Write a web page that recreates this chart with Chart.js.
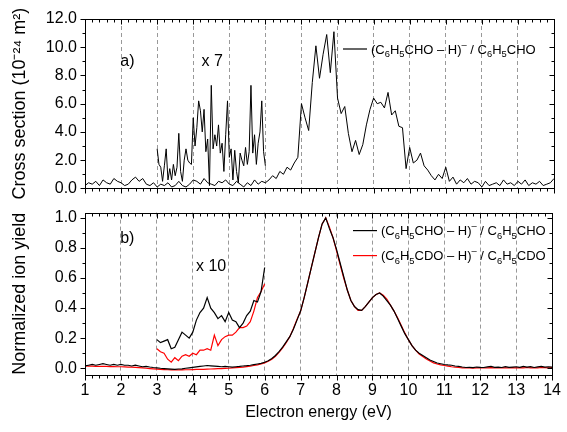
<!DOCTYPE html>
<html>
<head>
<meta charset="utf-8">
<script src="https://cdn.jsdelivr.net/npm/chart.js@4.4.1/dist/chart.umd.min.js"></script>
<style>
  html, body { margin: 0; padding: 0; background: #fff; }
  #wrap { position: relative; width: 567px; height: 432px; }
  #boxA { position: absolute; left: 0; top: 0; width: 567px; height: 206px; }
  #boxB { position: absolute; left: 0; top: 195px; width: 567px; height: 237px; }
</style>
</head>
<body>
<div id="wrap">
  <div id="boxA"><canvas id="chartA"></canvas></div>
  <div id="boxB"><canvas id="chartB"></canvas></div>
</div>
<script>
// energy grids (eV)
function grid(start, step, n) {
  return Array.from({ length: n }, (_, i) => +(start + i * step).toFixed(2));
}
const energyMain = grid(1.0, 0.1, 131);   // 1.0 ... 14.0
const energyZoomA = grid(3.0, 0.05, 61);  // 3.00 ... 6.00
const energyZoomB = grid(3.0, 0.1, 31);   // 3.0 ... 6.0

// a) cross section (10^-24 m^2)
const crossSection = [
  0.2, 0.4, 0.3, 0.5, 0.2, 0.6, 0.4, 0.3, 0.7, 0.5,
  0.4, 0.2, 0.3, 0.6, 0.8, 0.5, 0.7, 0.3, 0.2, 0.4,
  0.1, 0.3, 0.2, 0.4, 0.1, 0.2, 0.5, 0.2, 0.1, 0.3,
  0.6, 0.5, 0.3, 0.7, 0.4, 0.3, 0.2, 0.5, 0.4, 0.6,
  0.3, 0.2, 0.5, 0.3, 0.1, 0.4, 0.2, 0.6, 0.3, 0.5,
  0.4, 0.6, 0.9, 0.7, 1.2, 1.0, 1.5, 1.3, 1.8, 2.2,
  6.0, 5.0, 4.1, 7.5, 10.1, 7.8, 9.5, 10.9, 8.2, 11.1,
  6.4, 5.3, 5.8, 3.9, 2.6, 3.4, 2.4, 3.1, 4.5, 5.6,
  6.4, 6.0, 6.1, 5.7, 6.8, 5.2, 5.5, 4.4, 4.3, 1.4,
  2.9, 1.8, 2.0, 2.5, 1.6, 1.3, 0.9, 0.6, 1.0, 0.7,
  1.5, 0.5, 0.8, 0.3, 0.6, 0.4, 0.7, 0.3, 0.5, 0.4,
  0.1, 0.5, 0.2, 0.3, 0.4, 0.2, 0.6, 0.3, 0.4, 0.2,
  0.5, 0.3, 0.6, 0.2, 0.4, 0.3, 0.5, 0.2, 0.3, 0.4,
  0.7
];
// a) 3-6 eV region magnified x 7
const crossSectionX7 = [
  2.8, 1.7, 1.5, 0.5, 1.6, 2.8, 0.6, 1.4, 0.6, 1.7,
  0.9, 1.5, 3.9, 1.2, 0.5, 2.0, 2.8, 2.0, 1.8, 1.7,
  5.0, 3.0, 4.3, 6.2, 5.5, 4.0, 5.6, 2.6, 3.5, 0.2,
  7.3, 2.8, 3.8, 3.0, 4.5, 2.5, 3.2, 1.2, 3.8, 6.2,
  2.2, 2.8, 0.6, 2.7, 1.2, 0.4, 2.5, 2.0, 1.6, 2.9,
  1.7, 2.6, 7.3, 2.5, 3.8, 1.7, 3.2, 4.0, 6.2, 2.6,
  1.6
];

// b) normalized ion yield
const yieldCHO = [
  0.015, 0.02, 0.025, 0.02, 0.025, 0.03, 0.025, 0.02, 0.025, 0.02,
  0.025, 0.02, 0.02, 0.015, 0.02, 0.015, 0.01, 0.012, 0.008, 0.005,
  0.003, 0.0, -0.002, -0.004, -0.006, -0.008, -0.005, -0.004, 0.0, 0.003,
  0.006, 0.009, 0.012, 0.015, 0.018, 0.016, 0.014, 0.012, 0.01, 0.012,
  0.01, 0.008, 0.01, 0.012, 0.015, 0.017, 0.02, 0.024, 0.028, 0.032,
  0.04, 0.05, 0.065, 0.085, 0.11, 0.14, 0.175, 0.21, 0.26, 0.32,
  0.38, 0.47, 0.57, 0.67, 0.77, 0.87, 0.96, 1.0, 0.93, 0.87,
  0.79, 0.70, 0.61, 0.52, 0.45, 0.41, 0.39, 0.385, 0.41, 0.44,
  0.47, 0.49, 0.50, 0.48, 0.45, 0.42, 0.38, 0.33, 0.28, 0.23,
  0.19, 0.15, 0.12, 0.10, 0.085, 0.07, 0.055, 0.045, 0.035, 0.03,
  0.025, 0.022, 0.02, 0.015, 0.012, 0.008, 0.005, 0.006, 0.004, 0.008,
  0.006, 0.005, 0.009, 0.012, 0.006, 0.008, 0.005, 0.01, 0.006, 0.008,
  0.01, 0.006, 0.012, 0.008, 0.01, 0.005, 0.009, 0.012, 0.007, 0.01,
  0.008
];
const yieldCDO = [
  0.015, 0.014, 0.014, 0.013, 0.013, 0.012, 0.012, 0.011, 0.011, 0.01,
  0.01, 0.009, 0.008, 0.007, 0.006, 0.004, 0.002, 0.0, -0.002, -0.004,
  -0.006, -0.008, -0.009, -0.01, -0.011, -0.011, -0.011, -0.011, -0.01, -0.01,
  -0.009, -0.008, -0.008, -0.007, -0.006, -0.005, -0.004, -0.003, -0.002, -0.001,
  0.0, 0.002, 0.004, 0.006, 0.008, 0.011, 0.014, 0.018, 0.022, 0.028,
  0.036, 0.046, 0.06, 0.08, 0.105, 0.135, 0.17, 0.21, 0.265, 0.325,
  0.38, 0.47, 0.57, 0.67, 0.77, 0.87, 0.96, 1.0, 0.94, 0.87,
  0.78, 0.69, 0.60, 0.52, 0.45, 0.41, 0.385, 0.385, 0.41, 0.44,
  0.47, 0.49, 0.50, 0.485, 0.46, 0.42, 0.38, 0.335, 0.285, 0.235,
  0.19, 0.15, 0.12, 0.095, 0.078, 0.062, 0.048, 0.036, 0.028, 0.022,
  0.018, 0.014, 0.01, 0.007, 0.005, 0.003, 0.002, 0.002, 0.001, 0.002,
  0.002, 0.003, 0.002, 0.004, 0.003, 0.002, 0.004, 0.003, 0.002, 0.004,
  0.003, 0.004, 0.002, 0.005, 0.003, 0.004, 0.003, 0.005, 0.004, 0.003,
  0.004
];
// b) 3-6 eV region magnified x 10
const yieldCHOx10 = [
  0.19, 0.17, 0.18, 0.19, 0.13, 0.14, 0.19, 0.24, 0.22, 0.20,
  0.24, 0.32, 0.37, 0.40, 0.47, 0.40, 0.37, 0.33, 0.35, 0.31,
  0.37, 0.32, 0.31, 0.27, 0.30, 0.35, 0.38, 0.45, 0.44, 0.51,
  0.67
];
const yieldCDOx10 = [
  0.13, 0.11, 0.10, 0.06, 0.04, 0.07, 0.05, 0.08, 0.09, 0.08,
  0.10, 0.09, 0.12, 0.12, 0.13, 0.12, 0.22, 0.15, 0.19, 0.21,
  0.22, 0.22, 0.24, 0.27, 0.27, 0.28, 0.31, 0.38, 0.47, 0.51,
  0.56
];

// tick labels
const xTicks = [1, 2, 3, 4, 5, 6, 7, 8, 9, 10, 11, 12, 13, 14];
const yTicksA = [0, 2, 4, 6, 8, 10, 12];
const yTicksB = [0, 0.2, 0.4, 0.6, 0.8, 1.0];

// text
const legendCHO = [['(C', ''], ['6', 'sub'], ['H', ''], ['5', 'sub'], ['CHO – H)', ''], ['\u2013', 'sup'], [' / C', ''], ['6', 'sub'], ['H', ''], ['5', 'sub'], ['CHO', '']];
const legendCDO = [['(C', ''], ['6', 'sub'], ['H', ''], ['5', 'sub'], ['CDO – H)', ''], ['\u2013', 'sup'], [' / C', ''], ['6', 'sub'], ['H', ''], ['5', 'sub'], ['CDO', '']];

const FONT = '"Liberation Sans", Arial, sans-serif';
const GRID_GREY = '#999999';

function pts(xs, ys) {
  return xs.map((x, i) => ({ x: x, y: ys[i] }));
}

function drawRich(ctx, segs, x, y, size) {
  ctx.textBaseline = 'alphabetic';
  ctx.textAlign = 'left';
  segs.forEach(([txt, mode]) => {
    const s = mode ? size * 0.72 : size;
    const dy = mode === 'sub' ? size * 0.3 : mode === 'sup' ? -size * 0.45 : 0;
    ctx.font = s + 'px ' + FONT;
    ctx.fillText(txt, x, y + dy);
    x += ctx.measureText(txt).width;
  });
}

// box, minor/major ticks (left & bottom outward, top & right inward)
const framePlugin = {
  id: 'frame',
  afterDraw(chart, args, opts) {
    const { ctx, chartArea: a, scales: { x, y } } = chart;
    ctx.save();
    ctx.strokeStyle = '#000';
    ctx.lineWidth = 1;
    ctx.strokeRect(Math.round(a.left) + 0.5, Math.round(a.top) + 0.5,
      Math.round(a.right - a.left), Math.round(a.bottom - a.top));
    ctx.beginPath();
    const bot = Math.round(a.bottom) + 0.5, top = Math.round(a.top) + 0.5;
    for (let i = 5; i <= 70; i++) {
      const px = Math.round(x.getPixelForValue(i / 5)) + 0.5;
      const len = i % 5 === 0 ? 5 : 3;
      ctx.moveTo(px, bot); ctx.lineTo(px, bot + len);
      ctx.moveTo(px, top); ctx.lineTo(px, top + len);
    }
    const left = Math.round(a.left) + 0.5, right = Math.round(a.right) + 0.5;
    const n = Math.round((opts.yMax - opts.yMin) / opts.yMinor);
    for (let i = 0; i <= n; i++) {
      const v = opts.yMin + i * opts.yMinor;
      const py = Math.round(y.getPixelForValue(v)) + 0.5;
      const len = i % 2 === 0 ? 5 : 3;
      ctx.moveTo(left, py); ctx.lineTo(left - len, py);
      ctx.moveTo(right, py); ctx.lineTo(right - len, py);
    }
    ctx.stroke();
    ctx.restore();
  }
};

// panel labels and legends
const notesPlugin = {
  id: 'notes',
  afterDraw(chart, args, opts) {
    const { ctx, chartArea: a, scales: { x, y } } = chart;
    ctx.save();
    ctx.fillStyle = '#000';
    ctx.font = '16px ' + FONT;
    ctx.textBaseline = 'middle';
    ctx.textAlign = 'left';
    opts.labels.forEach(l => ctx.fillText(l.text, x.getPixelForValue(l.x), y.getPixelForValue(l.y)));
    opts.legend.forEach(item => {
      const ly = a.top + item.dy;
      ctx.strokeStyle = item.color;
      ctx.lineWidth = 1.2;
      ctx.beginPath();
      ctx.moveTo(a.left + item.dx, ly);
      ctx.lineTo(a.left + item.dx + 24, ly);
      ctx.stroke();
      ctx.fillStyle = '#000';
      drawRich(ctx, item.segs, a.left + item.dx + 28, ly + 4.5, 13);
    });
    ctx.restore();
  }
};

function xScale(showLabels, h) {
  return {
    type: 'linear',
    min: 1,
    max: 14,
    afterBuildTicks: s => { s.ticks = xTicks.map(v => ({ value: v })); },
    afterFit: s => { s.height = h; },
    ticks: {
      display: showLabels,
      padding: 6,
      color: '#000',
      font: { family: FONT, size: 16 },
      maxRotation: 0
    },
    grid: {
      drawTicks: false,
      lineWidth: 1,
      color: c => (c.tick && c.tick.value > 1 && c.tick.value < 14) ? GRID_GREY : 'rgba(0,0,0,0)'
    },
    border: { display: false, dash: [4, 3] },
    title: showLabels ? {
      display: true,
      text: 'Electron energy (eV)',
      color: '#000',
      font: { family: FONT, size: 16, lineHeight: 1.2 },
      padding: { top: 0, bottom: 10 }
    } : { display: false }
  };
}

function yScale(min, max, ticks, title) {
  return {
    type: 'linear',
    min: min,
    max: max,
    afterBuildTicks: s => { s.ticks = ticks.map(v => ({ value: v })); },
    afterFit: s => { s.width = 85; },
    ticks: {
      padding: 8,
      color: '#000',
      font: { family: FONT, size: 16 },
      callback: v => v.toFixed(1)
    },
    grid: { display: false, drawTicks: false },
    border: { display: false },
    title: {
      display: true,
      text: title,
      color: '#000',
      font: { family: FONT, size: 18, lineHeight: 1.2 },
      padding: { top: 9, bottom: 0 }
    }
  };
}

function lineSet(data, color, width) {
  return {
    data: data,
    borderColor: color,
    borderWidth: width,
    pointRadius: 0,
    tension: 0,
    fill: false
  };
}

const chartA = new Chart(document.getElementById('chartA'), {
  type: 'line',
  data: {
    datasets: [
      lineSet(pts(energyMain, crossSection), '#000', 1),
      lineSet(pts(energyZoomA, crossSectionX7), '#000', 1)
    ]
  },
  options: {
    responsive: true,
    maintainAspectRatio: false,
    animation: false,
    layout: { padding: { top: 19, right: 13, left: 0, bottom: 0 } },
    scales: {
      x: xScale(false, 6),
      y: yScale(0, 12, yTicksA, 'Cross section (10\u207B\u00B2\u2074 m\u00B2)')
    },
    plugins: {
      legend: { display: false },
      tooltip: { enabled: false },
      frame: { yMin: 0, yMax: 12, yMinor: 1 },
      notes: {
        labels: [
          { text: 'a)', x: 1.98, y: 9.0 },
          { text: 'x 7', x: 4.23, y: 9.0 }
        ],
        legend: [
          { segs: legendCHO, color: '#000', dx: 258, dy: 30 }
        ]
      }
    }
  },
  plugins: [framePlugin, notesPlugin]
});

const chartB = new Chart(document.getElementById('chartB'), {
  type: 'line',
  data: {
    datasets: [
      lineSet(pts(energyMain, yieldCHO), '#000', 1.2),
      lineSet(pts(energyMain, yieldCDO), '#ff0000', 1.2),
      lineSet(pts(energyZoomB, yieldCHOx10), '#000', 1.2),
      lineSet(pts(energyZoomB, yieldCDOx10), '#ff0000', 1.2)
    ]
  },
  options: {
    responsive: true,
    maintainAspectRatio: false,
    animation: false,
    layout: { padding: { top: 17, right: 13, left: 0, bottom: 0 } },
    scales: {
      x: xScale(true, 57),
      y: yScale(-0.045, 1.035, yTicksB, 'Normalized ion yield')
    },
    plugins: {
      legend: { display: false },
      tooltip: { enabled: false },
      frame: { yMin: 0, yMax: 1.0, yMinor: 0.1 },
      notes: {
        labels: [
          { text: 'b)', x: 1.98, y: 0.86 },
          { text: 'x 10', x: 4.09, y: 0.675 }
        ],
        legend: [
          { segs: legendCHO, color: '#000', dx: 268, dy: 18 },
          { segs: legendCDO, color: '#ff0000', dx: 268, dy: 43 }
        ]
      }
    }
  },
  plugins: [framePlugin, notesPlugin]
});
</script>
</body>
</html>
